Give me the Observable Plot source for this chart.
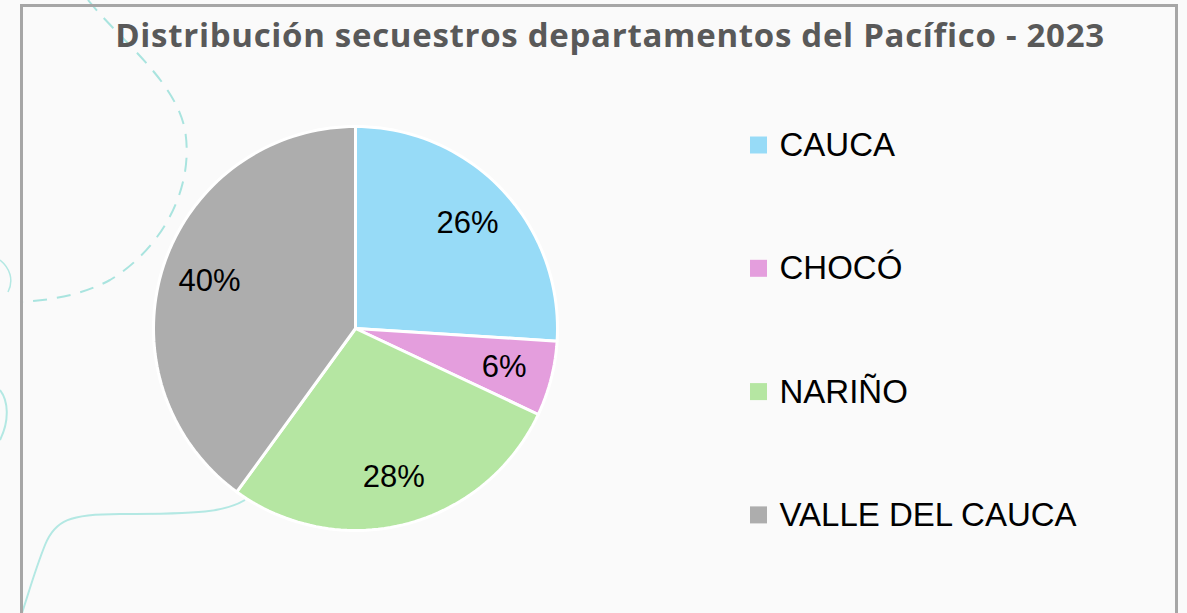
<!DOCTYPE html>
<html><head><meta charset="utf-8">
<script src="https://cdn.jsdelivr.net/npm/d3@7"></script>
<script src="https://cdn.jsdelivr.net/npm/@observablehq/plot@0.6"></script>
<style>
html,body{margin:0;padding:0;background:#fafafa;width:1187px;height:613px;overflow:hidden;}
#deco{position:absolute;left:0;top:0;}
#frame{position:absolute;left:20px;top:4px;width:1158px;height:660px;border:3px solid #a6a6a6;box-sizing:border-box;}
#title{position:absolute;left:20px;width:1180px;top:13px;text-align:center;font-family:"Open Sans",Lato,sans-serif;font-weight:700;font-size:33px;line-height:44px;color:#595959;letter-spacing:0.7px;}
#chart{position:absolute;left:0;top:70px;}
</style></head>
<body>
<svg id="deco" width="1187" height="613">
  <path d="M88,0 C120,40 175,80 185,130 C195,190 160,250 110,280 C80,296 50,300 20,302" fill="none" stroke="#a9e4df" stroke-width="2" stroke-dasharray="14,10"/>
  <path d="M245,500 C225,512 200,514 120,514 C70,514 55,520 45,545 C35,570 28,595 22,613" fill="none" stroke="#b3e8e3" stroke-width="2"/>
  <path d="M0,390 C8,400 10,420 0,440" fill="none" stroke="#b3e8e3" stroke-width="2"/>
  <path d="M0,260 C10,268 14,280 8,292" fill="none" stroke="#b3e8e3" stroke-width="1.5"/>
</svg>
<div id="frame"></div>
<div id="title">Distribución secuestros departamentos del Pacífico - 2023</div>
<div id="chart"></div>
<script>
const departamentos = ["CAUCA", "CHOCÓ", "NARIÑO", "VALLE DEL CAUCA"];
const porcentajes = [26, 6, 28, 40];
const colores = ["#97dbf7", "#e49edd", "#b5e6a2", "#adadad"];

const W = 1187, H = 543;
const cx = 355, cy = 258, R = 202;

const rows = departamentos.map((d, i) => ({name: d, value: porcentajes[i]}));
const arcs = d3.pie().sort(null).value(d => d.value)(rows);

const pts = [];
for (const a of arcs) {
  const n = Math.max(4, Math.ceil((a.endAngle - a.startAngle) / (2 * Math.PI) * 200));
  pts.push({name: a.data.name, x: cx, y: cy});
  for (let k = 0; k <= n; k++) {
    const t = a.startAngle + (a.endAngle - a.startAngle) * k / n;
    pts.push({name: a.data.name, x: cx + R * Math.sin(t), y: cy - R * Math.cos(t)});
  }
  pts.push({name: a.data.name, x: cx, y: cy});
}

const labels = arcs.map(a => {
  const m = (a.startAngle + a.endAngle) / 2, rr = R * 0.76;
  return {text: a.data.value + "%", x: cx + rr * Math.sin(m), y: cy - rr * Math.cos(m)};
});

const legend = departamentos.map((d, i) => ({name: d, y: 75 + i * 123.3}));

const chart = Plot.plot({
  width: W, height: H,
  margin: 0,
  style: {background: "transparent", overflow: "visible"},
  x: {domain: [0, W], range: [0, W], axis: null},
  y: {domain: [0, H], range: [0, H], axis: null},
  color: {domain: departamentos, range: colores, legend: false},
  marks: [
    Plot.line(pts, {x: "x", y: "y", z: "name", fill: "name", stroke: "white", strokeWidth: 3, strokeLinejoin: "round", curve: "linear"}),
    Plot.text(labels, {x: "x", y: "y", text: "text", fontSize: 31, fontFamily: "Liberation Sans, Arial, sans-serif", fill: "black"}),
    Plot.rect(legend, {x1: 750, x2: 767, y1: d => d.y - 8.5, y2: d => d.y + 8.5, fill: "name"}),
    Plot.text(legend, {x: 779, y: "y", text: "name", textAnchor: "start", fontSize: 33, fontFamily: "Liberation Sans, Arial, sans-serif", fill: "black"})
  ]
});
document.getElementById("chart").appendChild(chart);
</script>
</body></html>
